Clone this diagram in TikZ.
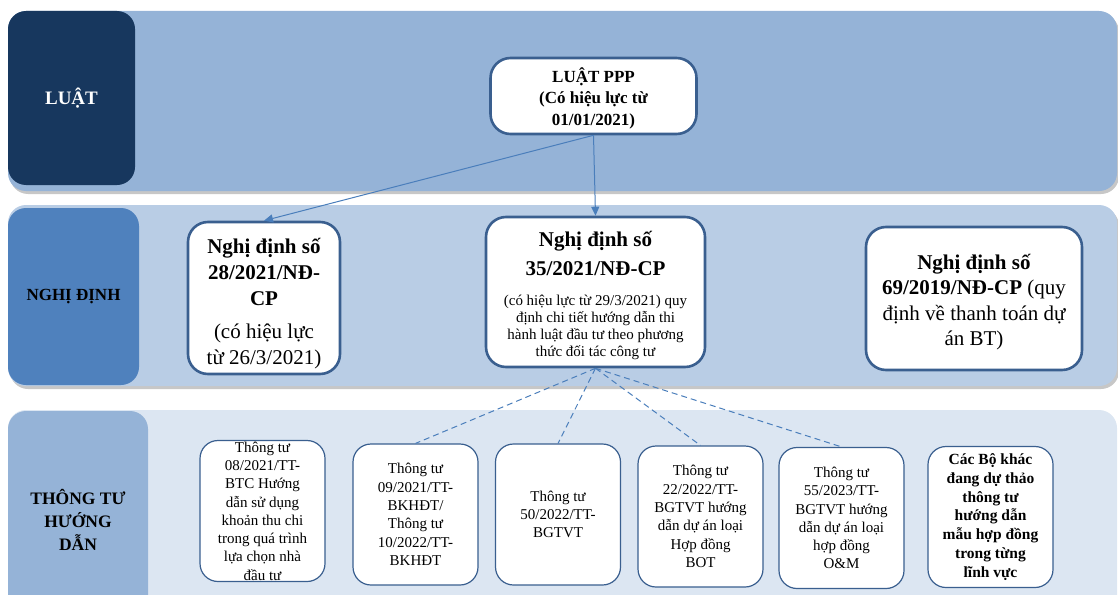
\documentclass[tikz,border=0pt]{standalone}
\usepackage{fontspec}
\setmainfont{Liberation Serif}
\usetikzlibrary{arrows.meta}
\definecolor{navy}{HTML}{17375E}
\definecolor{bandA}{HTML}{95B3D7}
\definecolor{midblue}{HTML}{4F81BD}
\definecolor{bandB}{HTML}{B9CDE5}
\definecolor{bandC}{HTML}{DCE6F2}
\definecolor{edge}{HTML}{3A5F8F}
\definecolor{linkblue}{HTML}{4A7EBB}
\begin{document}
\begin{tikzpicture}[x=1pt,y=-1pt,
    bandbox/.style={rounded corners=18pt},
    bandshadow/.style={fill=black!22, rounded corners=18pt},
    headbox/.style={rounded corners=18pt, align=center, inner sep=0pt},
    docbox/.style={draw=edge, fill=white, line width=2.6pt, rounded corners=20pt, align=center, inner sep=0pt},
    leafbox/.style={draw=edge, fill=white, line width=1.2pt, rounded corners=18pt, align=center, inner sep=0pt,
      minimum width=125pt, minimum height=141pt, font=\fontsize{15}{18.3}\selectfont},
    linkline/.style={draw=linkblue, line width=1pt}]
  \useasboundingbox (0,0) rectangle (1118,594);
  \clip (0,0) rectangle (1118,594);
  % bands
  \fill[bandshadow] (10,14) rectangle (1119,194);
  \fill[bandA, bandbox] (8,11) rectangle (1117,191);
  \fill[bandshadow] (10,208) rectangle (1119,389);
  \fill[bandB, bandbox] (8,205) rectangle (1117,386);
  \fill[bandC, bandbox] (8,410) rectangle (1117,640);
  % row heads
  \node[headbox, fill=navy, text=white, minimum width=127pt, minimum height=174pt,
    font=\bfseries\fontsize{19}{22}\selectfont] (luat) at (71.5,98) {LUẬT};
  \node[headbox, fill=midblue, minimum width=131pt, minimum height=177pt,
    font=\bfseries\fontsize{17}{20}\selectfont] (nghidinh) at (73.5,296.5) {NGHỊ ĐỊNH};
  \node[headbox, fill=bandA, minimum width=140pt, minimum height=218pt,
    font=\bfseries\fontsize{17.5}{23}\selectfont] (thongtu) at (78,520) {THÔNG TƯ\\HƯỚNG\\DẪN};
  % law
  \node[docbox, minimum width=206pt, minimum height=76pt, font=\bfseries\fontsize{17}{21.5}\selectfont]
    (ppp) at (593.5,96) {\rule{0pt}{19pt}LUẬT PPP\\(Có hiệu lực từ\\01/01/2021)};
  % decrees
  \node[docbox, minimum width=152pt, minimum height=152pt, font=\fontsize{21}{26}\selectfont]
    (nd28) at (264,298) {\rule{0pt}{26pt}\textbf{Nghị định số}\\\textbf{28/2021/NĐ-}\\\textbf{CP}\\[7pt](có hiệu lực\\từ 26/3/2021)};
  \node[docbox, minimum width=219pt, minimum height=150pt, font=\fontsize{15}{16.8}\selectfont]
    (nd35) at (595.5,292) {\rule{0pt}{22pt}{\bfseries\fontsize{21}{26}\selectfont Nghị định số}\\[9pt]
      {\bfseries\fontsize{21}{26}\selectfont 35/2021/NĐ-CP}\\[14pt]
      (có hiệu lực từ 29/3/2021) quy\\định chi tiết hướng dẫn thi\\hành luật đầu tư theo phương\\thức đối tác công tư};
  \node[docbox, minimum width=216pt, minimum height=143pt, font=\fontsize{21}{25.5}\selectfont]
    (nd69) at (974,298.5) {\rule{0pt}{22pt}\textbf{Nghị định số}\\\textbf{69/2019/NĐ-CP} (quy\\định về thanh toán dự\\án BT)};
  % circulars
  \node[leafbox] (tt08) at (262.5,511) {Thông tư\\08/2021/TT-\\BTC Hướng\\dẫn sử dụng\\khoản thu chi\\trong quá trình\\lựa chọn nhà\\đầu tư};
  \node[leafbox] (tt09) at (415.5,514.5) {Thông tư\\09/2021/TT-\\BKHĐT/\\Thông tư\\10/2022/TT-\\BKHĐT};
  \node[leafbox] (tt50) at (558,514.5) {Thông tư\\50/2022/TT-\\BGTVT};
  \node[leafbox] (tt22) at (700.5,516.5) {Thông tư\\22/2022/TT-\\BGTVT hướng\\dẫn dự án loại\\Hợp đồng\\BOT};
  \node[leafbox] (tt55) at (841.5,518) {Thông tư\\55/2023/TT-\\BGTVT hướng\\dẫn dự án loại\\hợp đồng\\O\&M};
  \node[leafbox, font=\bfseries\fontsize{15.5}{18.8}\selectfont] (khac) at (990.5,517)
    {Các Bộ khác\\đang dự thảo\\thông tư\\hướng dẫn\\mẫu hợp đồng\\trong từng\\lĩnh vực};
  \begin{scope}[linkline, -{Triangle[length=9pt,width=8pt]}]
    \draw (ppp.south) to (nd28.north);
    \draw (ppp.south) to (nd35.north);
  \end{scope}
  \begin{scope}[linkline, dash pattern=on 6pt off 4pt]
    \draw (nd35.south) to (tt09.north);
    \draw (nd35.south) to (tt50.north);
    \draw (nd35.south) to (tt22.north);
    \draw (nd35.south) to (tt55.north);
  \end{scope}
\end{tikzpicture}
\end{document}
